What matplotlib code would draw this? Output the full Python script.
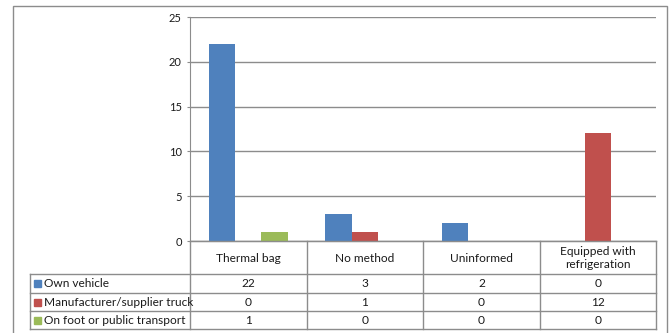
import matplotlib
matplotlib.use("Agg")
import matplotlib.pyplot as plt
from matplotlib.patches import Rectangle
from matplotlib.lines import Line2D
import numpy as np

plt.rcParams['font.family'] = ['Lato', 'DejaVu Sans']

categories = ["Thermal bag", "No method", "Uninformed", "Equipped with\nrefrigeration"]
series_names = ["Own vehicle", "Manufacturer/supplier truck", "On foot or public transport"]
own_vehicle = [22, 3, 2, 0]
supplier_truck = [0, 1, 0, 12]
public_transport = [1, 0, 0, 0]
series_values = [own_vehicle, supplier_truck, public_transport]
colors = ["#4F81BD", "#C0504D", "#9BBB59"]
y_ticks = [0, 5, 10, 15, 20, 25]

W, H = 670, 333
fig = plt.figure(figsize=(W / 100, H / 100), dpi=100)

def fx(px):
    return px / W

def fy(py):
    return 1 - py / H

grid_c = "#8C8C8C"
text_c = "#1A1A1A"

# outer chart frame
fig.add_artist(Rectangle((fx(13), fy(340)), fx(667) - fx(13), fy(6) - fy(340),
                         transform=fig.transFigure, fill=False, ec="#8C8C8C", lw=1.0))

# plot area
left, right, top, base = 190, 656, 17, 241
ax = fig.add_axes([fx(left), fy(base), fx(right) - fx(left), fy(top) - fy(base)])
n = len(categories)
x = np.arange(n)
bw = 0.225
for i, (vals, c) in enumerate(zip(series_values, colors)):
    ax.bar(x + (i - 1) * bw, vals, width=bw, color=c, zorder=3)
ax.set_xlim(-0.5, n - 0.5)
ax.set_ylim(0, 25)
ax.set_yticks(y_ticks)
ax.set_yticklabels([str(t) for t in y_ticks], fontsize=8, color=text_c)
ax.set_xticks([])
ax.yaxis.grid(True, color=grid_c, lw=1.0, zorder=0)
for s in ["top", "right"]:
    ax.spines[s].set_visible(False)
ax.spines["left"].set_color(grid_c)
ax.spines["bottom"].set_color(grid_c)
ax.tick_params(axis="y", length=2.5, color=grid_c, pad=3.5)

# data table beneath the plot
tab_left = 30
row_edges = [241, 274, 293, 311, 329]
col_edges = [190, 307, 423, 540, 656]
tax = fig.add_axes([0, 0, 1, 1], facecolor="none")
tax.set_xlim(0, W)
tax.set_ylim(H, 0)
tax.axis("off")
lc = "#8C8C8C"
# horizontal lines
tax.add_line(Line2D([col_edges[0], col_edges[-1]], [row_edges[0]] * 2, color=lc, lw=1))
for ry in row_edges[1:]:
    tax.add_line(Line2D([tab_left, col_edges[-1]], [ry, ry], color=lc, lw=1))
# vertical lines
tax.add_line(Line2D([tab_left, tab_left], [row_edges[1], row_edges[-1]], color=lc, lw=1))
for cx in col_edges:
    tax.add_line(Line2D([cx, cx], [row_edges[0], row_edges[-1]], color=lc, lw=1))

# category headers
for j, cat in enumerate(categories):
    cxm = (col_edges[j] + col_edges[j + 1]) / 2
    tax.text(cxm, (row_edges[0] + row_edges[1]) / 2 + 0.5, cat, ha="center", va="center",
             fontsize=8.6, color=text_c, linespacing=1.25)

# series rows
for i, (name, vals, c) in enumerate(zip(series_names, series_values, colors)):
    ry = (row_edges[i + 1] + row_edges[i + 2]) / 2
    tax.add_patch(Rectangle((34, ry - 3.5), 7, 7, color=c))
    tax.text(44, ry, name, ha="left", va="center", fontsize=8.6, color=text_c)
    for j, v in enumerate(vals):
        cxm = (col_edges[j] + col_edges[j + 1]) / 2
        tax.text(cxm, ry, str(v), ha="center", va="center", fontsize=8.6, color=text_c)

fig.savefig("out.png", dpi=100)
